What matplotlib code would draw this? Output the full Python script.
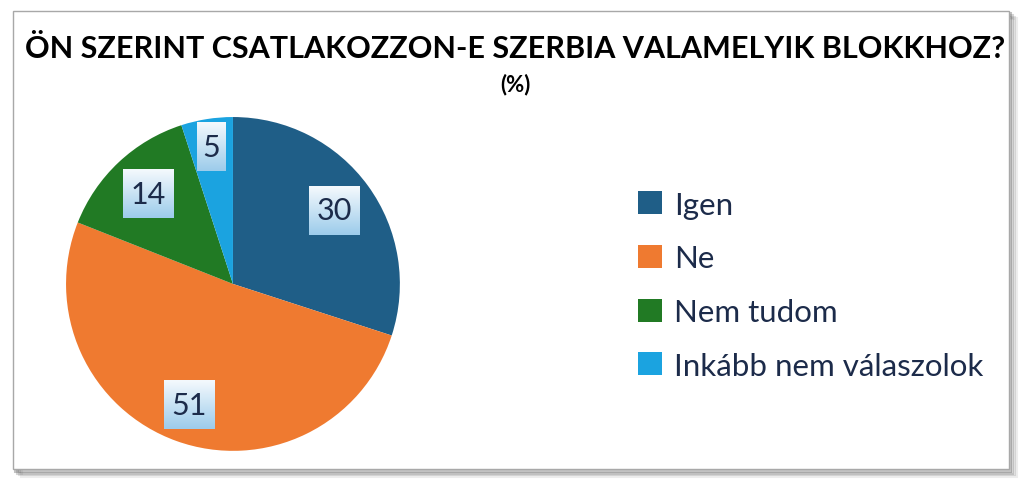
import numpy as np
import matplotlib
matplotlib.use("Agg")
import matplotlib.pyplot as plt
from matplotlib.patches import Rectangle, Patch
from matplotlib.colors import LinearSegmentedColormap

plt.rcParams["font.family"] = ["Lato", "DejaVu Sans"]

TITLE = "ÖN SZERINT CSATLAKOZZON-E SZERBIA VALAMELYIK BLOKKHOZ?"
SUBTITLE = "(%)"
labels = ["Igen", "Ne", "Nem tudom", "Inkább nem válaszolok"]
values = [30, 51, 14, 5]
colors = ["#1F5E87", "#EF7A30", "#217A24", "#1BA3E0"]
label_dist = [0.75, 0.77, 0.74, 0.83]

TEXT_COLOR = "#1C2B4A"

fig = plt.figure(figsize=(10.24, 4.85), dpi=100)

# frame with a soft shadow
for i, a in enumerate([0.10, 0.16, 0.24, 0.35]):
    off = (4 - i) * 0.0018
    fig.patches.append(Rectangle((0.013 + off, 0.031 - off * 2.1), 0.972, 0.944,
                                 transform=fig.transFigure, facecolor="none",
                                 edgecolor="#555555", lw=2.2, alpha=a, zorder=0))
fig.patches.append(Rectangle((0.013, 0.031), 0.972, 0.944, transform=fig.transFigure,
                             facecolor="white", edgecolor="#A8A8A8", lw=1.0, zorder=1))

fig.text(0.503, 0.9, TITLE, ha="center", va="center", fontsize=22,
         fontweight="bold", color="black", zorder=5)
fig.text(0.503, 0.825, SUBTITLE, ha="center", va="center", fontsize=16,
         fontweight="bold", color="black", zorder=5)

ax = fig.add_axes([0.0645, 0.068, 0.326, 0.689])
ax.set_zorder(5)
wedges, _ = ax.pie(values, colors=colors, startangle=90, counterclock=False,
                   wedgeprops=dict(linewidth=0))

# gradient used for the value boxes
grad = np.linspace(0, 1, 50).reshape(-1, 1)
box_cmap = LinearSegmentedColormap.from_list("box", ["#F4F9FD", "#9DCCEB"])

for w, v, d in zip(wedges, values, label_dist):
    mid = np.deg2rad((w.theta1 + w.theta2) / 2)
    x, y = d * np.cos(mid), d * np.sin(mid)
    hw = 0.15 if v >= 10 else 0.085
    hh = 0.145
    ax.imshow(grad, cmap=box_cmap, extent=(x - hw, x + hw, y - hh, y + hh),
              origin="upper", aspect="auto", zorder=3)
    ax.text(x, y, str(v), ha="center", va="center", fontsize=22,
            color=TEXT_COLOR, zorder=4)

ax.set_xlim(-1, 1)
ax.set_ylim(-1, 1)
ax.set_aspect("equal")
ax.axis("off")

handles = [Patch(facecolor=c, edgecolor="none") for c in colors]
leg = fig.legend(handles, labels, loc="center left", bbox_to_anchor=(0.596, 0.41),
                 frameon=False, fontsize=22.5, labelcolor=TEXT_COLOR,
                 handlelength=0.75, handleheight=0.75, handletextpad=0.4,
                 labelspacing=0.82)
leg.set_zorder(6)

fig.savefig("out.png", dpi=100)
